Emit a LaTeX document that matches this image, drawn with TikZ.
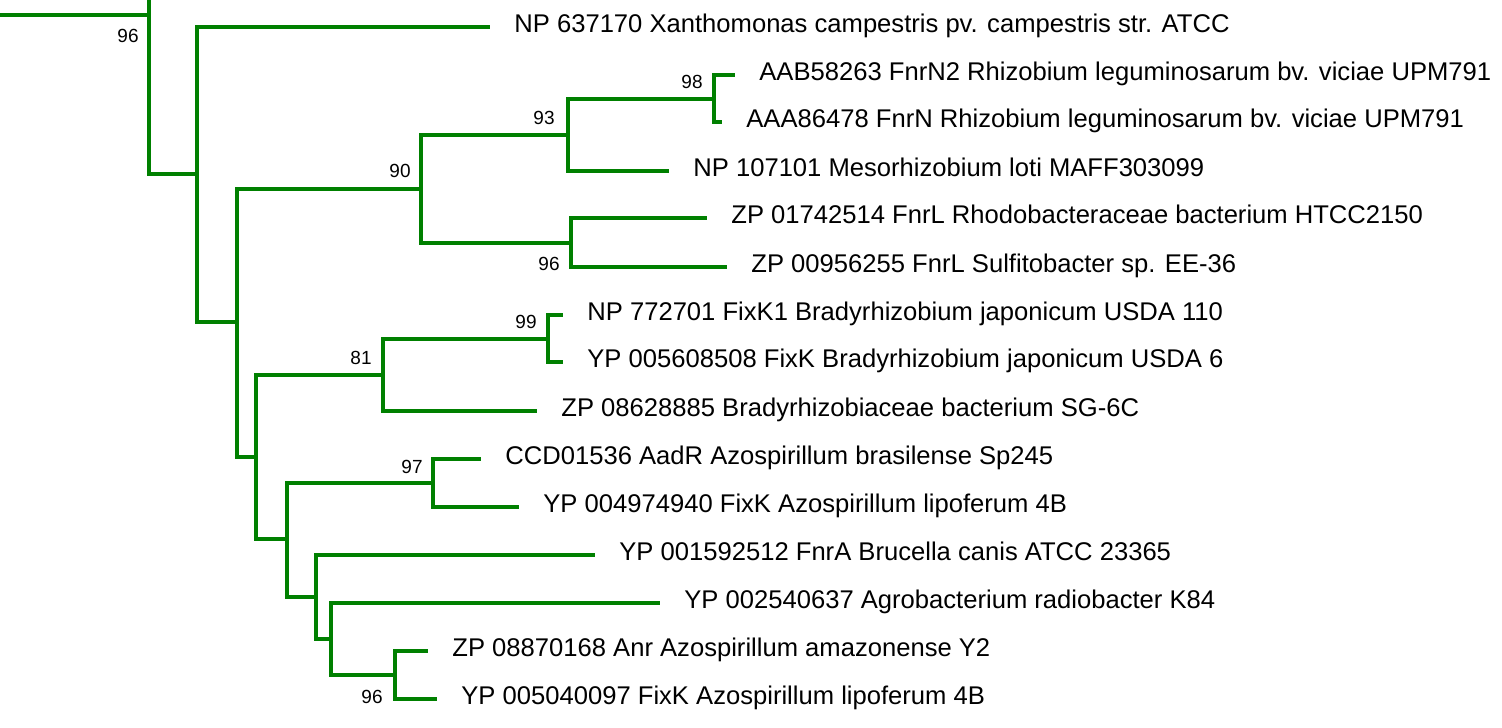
\documentclass[tikz,border=0pt]{standalone}
\usepackage{fontspec}
\setmainfont{Liberation Sans}
\usetikzlibrary{positioning}
\definecolor{treegreen}{RGB}{0,128,0}

\begin{document}
\begin{tikzpicture}[
  x=0.5pt, y=-0.5pt,
  branch/.style={draw=treegreen, line width=2pt},
  taxon/.style={inner sep=0pt, text height=0.75em, text depth=0.23em,
                font=\fontsize{12.8}{15}\selectfont},
  boot/.style={inner sep=0pt, font=\fontsize{9.5}{11}\selectfont}
]
\useasboundingbox (0,0) rectangle (1502,727);

\coordinate (rootstem) at (0,15);
\coordinate (topcut) at (149,0);
\coordinate (nA) at (149,15);
\coordinate (nB) at (197,174);
\coordinate (nC) at (237,322);
\coordinate (n90) at (421,189);
\coordinate (n93) at (568,135);
\coordinate (n98) at (714,99);
\coordinate (n96a) at (571,243);
\coordinate (nD) at (256,457);
\coordinate (n81) at (383,375);
\coordinate (n99) at (548,339);
\coordinate (nE) at (287,539);
\coordinate (n97) at (433,483);
\coordinate (nF) at (316,597);
\coordinate (nG) at (331,639);
\coordinate (n96b) at (395,675);

\coordinate (xan) at (490,27);
\coordinate (aab) at (735,75);
\coordinate (aaa) at (722,122);
\coordinate (meso) at (669,171);
\coordinate (rhodo) at (707,218);
\coordinate (sulfi) at (727,267);
\coordinate (brady1) at (563,315);
\coordinate (brady6) at (563,362);
\coordinate (bradyB) at (537,411);
\coordinate (aadr) at (481,459);
\coordinate (lipoA) at (519,507);
\coordinate (bruc) at (595,555);
\coordinate (agro) at (660,603);
\coordinate (amaz) at (428,651);
\coordinate (lipoB) at (437,699);

\node[taxon, right=12pt of xan] (xanL) {NP 637170 Xanthomonas campestris pv. campestris str. ATCC};
\node[taxon, right=12pt of aab] (aabL) {AAB58263 FnrN2 Rhizobium leguminosarum bv. viciae UPM791};
\node[taxon, right=12pt of aaa] (aaaL) {AAA86478 FnrN Rhizobium leguminosarum bv. viciae UPM791};
\node[taxon, right=12pt of meso] (mesoL) {NP 107101 Mesorhizobium loti MAFF303099};
\node[taxon, right=12pt of rhodo] (rhodoL) {ZP 01742514 FnrL Rhodobacteraceae bacterium HTCC2150};
\node[taxon, right=12pt of sulfi] (sulfiL) {ZP 00956255 FnrL Sulfitobacter sp. EE-36};
\node[taxon, right=12pt of brady1] (brady1L) {NP 772701 FixK1 Bradyrhizobium japonicum USDA 110};
\node[taxon, right=12pt of brady6] (brady6L) {YP 005608508 FixK Bradyrhizobium japonicum USDA 6};
\node[taxon, right=12pt of bradyB] (bradyBL) {ZP 08628885 Bradyrhizobiaceae bacterium SG-6C};
\node[taxon, right=12pt of aadr] (aadrL) {CCD01536 AadR Azospirillum brasilense Sp245};
\node[taxon, right=12pt of lipoA] (lipoAL) {YP 004974940 FixK Azospirillum lipoferum 4B};
\node[taxon, right=12pt of bruc] (brucL) {YP 001592512 FnrA Brucella canis ATCC 23365};
\node[taxon, right=12pt of agro] (agroL) {YP 002540637 Agrobacterium radiobacter K84};
\node[taxon, right=12pt of amaz] (amazL) {ZP 08870168 Anr Azospirillum amazonense Y2};
\node[taxon, right=12pt of lipoB] (lipoBL) {YP 005040097 FixK Azospirillum lipoferum 4B};

\draw[branch] (rootstem) -- (nA);
\draw[branch] (nA) -- (topcut);
\draw[branch] (nA) |- (nB);
\draw[branch] (nB) |- (xan);
\draw[branch] (nB) |- (nC);
\draw[branch] (nC) |- (n90);
\draw[branch] (n90) |- (n93);
\draw[branch] (n93) |- (n98);
\draw[branch] (n98) |- (aab);
\draw[branch] (n98) |- (aaa);
\draw[branch] (n93) |- (meso);
\draw[branch] (n90) |- (n96a);
\draw[branch] (n96a) |- (rhodo);
\draw[branch] (n96a) |- (sulfi);
\draw[branch] (nC) |- (nD);
\draw[branch] (nD) |- (n81);
\draw[branch] (n81) |- (n99);
\draw[branch] (n99) |- (brady1);
\draw[branch] (n99) |- (brady6);
\draw[branch] (n81) |- (bradyB);
\draw[branch] (nD) |- (nE);
\draw[branch] (nE) |- (n97);
\draw[branch] (n97) |- (aadr);
\draw[branch] (n97) |- (lipoA);
\draw[branch] (nE) |- (nF);
\draw[branch] (nF) |- (bruc);
\draw[branch] (nF) |- (nG);
\draw[branch] (nG) |- (agro);
\draw[branch] (nG) |- (n96b);
\draw[branch] (n96b) |- (amaz);
\draw[branch] (n96b) |- (lipoB);

\node[boot, below left=7pt and 5pt of nA] (bA) {96};
\node[boot, above left=5pt and 5.5pt of n98] (b98) {98};
\node[boot, above left=5pt and 6.5pt of n93] (b93) {93};
\node[boot, above left=5.5pt and 5pt of n90] (b90) {90};
\node[boot, below left=7pt and 5.5pt of n96a] (b96a) {96};
\node[boot, above left=5pt and 5.5pt of n99] (b99) {99};
\node[boot, above left=5pt and 5.5pt of n81] (b81) {81};
\node[boot, above left=4.5pt and 5pt of n97] (b97) {97};
\node[boot, below left=7.5pt and 6pt of n96b] (b96b) {96};
\end{tikzpicture}
\end{document}
